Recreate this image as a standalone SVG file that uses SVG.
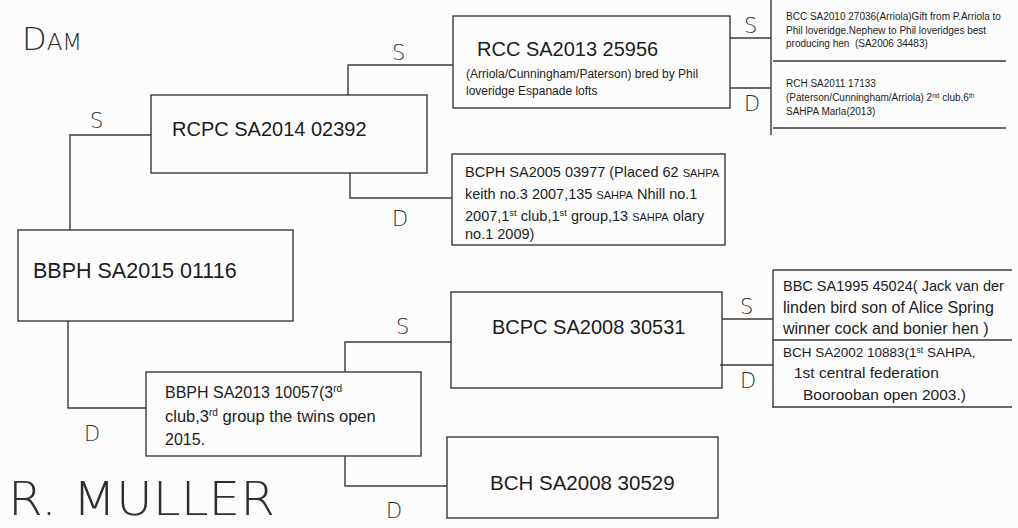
<svg xmlns="http://www.w3.org/2000/svg" width="1018" height="528" viewBox="0 0 1018 528">
<style>
.bg{fill:#fcfcfc}
.box{fill:none;stroke:#3a3a3a;stroke-width:1.4}
.ln{fill:none;stroke:#3a3a3a;stroke-width:1.4}
.t{font-family:"Liberation Sans",Arial,sans-serif;fill:#1c1c1c}
.big{font-size:20px}
.hand{font-family:"DejaVu Sans","Liberation Sans",sans-serif;font-weight:200;fill:#2e2e2e}
.sd{font-size:21px}
</style>
<rect class="bg" x="0" y="0" width="1018" height="528"/>

<g id="connectors">
  <polyline class="ln" points="70,230 70,135 151,135"/>
  <polyline class="ln" points="68,321 68,408 146,408"/>
  <polyline class="ln" points="348,95 348,65 453,65"/>
  <polyline class="ln" points="350,173 350,198 452,198"/>
  <line class="ln" x1="730" y1="38" x2="771" y2="38"/>
  <line class="ln" x1="730" y1="88" x2="771" y2="88"/>
  <line class="ln" x1="771" y1="0" x2="771" y2="135"/>
  <polyline class="ln" points="345,372 345,342 451,342"/>
  <polyline class="ln" points="345,456 345,486 447,486"/>
  <line class="ln" x1="722" y1="319" x2="773" y2="319"/>
  <line class="ln" x1="720" y1="365" x2="773" y2="365"/>
  <line class="ln" x1="773" y1="270" x2="773" y2="408"/>
</g>

<g id="n-bbph2015">
  <rect class="box" x="18" y="230" width="275" height="91"/>
  <text class="t" x="33" y="278" font-size="21.5">BBPH SA2015 01116</text>
</g>

<g id="n-rcpc">
  <rect class="box" x="151" y="95" width="276" height="78"/>
  <text class="t big" x="172" y="136">RCPC SA2014 02392</text>
</g>

<g id="n-rcc">
  <rect class="box" x="453" y="16" width="277" height="92"/>
  <text class="t big" x="477" y="56">RCC SA2013 25956</text>
  <text class="t" x="466" y="78" font-size="12">(Arriola/Cunningham/Paterson) bred by Phil</text>
  <text class="t" x="466" y="95" font-size="12">loveridge Espanade lofts</text>
</g>

<g id="n-bcc">
  <text class="t" x="786" y="20" font-size="10">BCC SA2010 27036(Arriola)Gift from P.Arriola to</text>
  <text class="t" x="786" y="33.5" font-size="10">Phil loveridge.Nephew to Phil loveridges best</text>
  <text class="t" x="786" y="47" font-size="10" xml:space="preserve">producing hen  (SA2006 34483)</text>
  <line class="ln" x1="773" y1="61" x2="1006" y2="61"/>
</g>

<g id="n-rch">
  <text class="t" x="786" y="87" font-size="10">RCH SA2011 17133</text>
  <text class="t" x="786" y="101" font-size="10">(Paterson/Cunningham/Arriola) 2<tspan dy="-3.5" font-size="6.5">nd</tspan><tspan dy="3.5"> club,6</tspan><tspan dy="-3.5" font-size="6.5">th</tspan></text>
  <text class="t" x="786" y="115" font-size="10">SAHPA Marla(2013)</text>
  <line class="ln" x1="773" y1="128" x2="1006" y2="128"/>
</g>

<g id="n-bcph">
  <rect class="box" x="452" y="154" width="273" height="91"/>
  <text class="t" x="465" y="177" font-size="14.5">BCPH SA2005 03977 (Placed 62 <tspan font-size="11">SAHPA</tspan></text>
  <text class="t" x="465" y="199" font-size="14.5">keith no.3 2007,135  <tspan font-size="11">SAHPA</tspan> Nhill no.1</text>
  <text class="t" x="465" y="221" font-size="14.5">2007,1<tspan dy="-5" font-size="9.5">st</tspan><tspan dy="5"> club,1</tspan><tspan dy="-5" font-size="9.5">st</tspan><tspan dy="5"> group,13 </tspan><tspan font-size="11">SAHPA</tspan> olary</text>
  <text class="t" x="465" y="239" font-size="14.5">no.1 2009)</text>
</g>

<g id="n-bbph2013">
  <rect class="box" x="146" y="372" width="275" height="84"/>
  <text class="t" x="165" y="398" font-size="16">BBPH SA2013 10057(3<tspan dy="-6" font-size="10">rd</tspan></text>
  <text class="t" x="165" y="422" font-size="16.5">club,3<tspan dy="-6" font-size="10">rd</tspan><tspan dy="6"> group the twins open</tspan></text>
  <text class="t" x="165" y="445" font-size="16">2015.</text>
</g>

<g id="n-bcpc">
  <rect class="box" x="451" y="292" width="271" height="96"/>
  <text class="t big" x="492" y="334">BCPC SA2008 30531</text>
</g>

<g id="n-bch2008">
  <rect class="box" x="447" y="437" width="271" height="81"/>
  <text class="t" x="490" y="490" font-size="20.5">BCH SA2008 30529</text>
</g>

<g id="n-bbc">
  <line class="ln" x1="773" y1="270" x2="1012" y2="270"/>
  <text class="t" x="783" y="291" font-size="14.5">BBC SA1995 45024( Jack van der</text>
  <text class="t" x="783" y="313" font-size="16">linden bird son of Alice Spring</text>
  <text class="t" x="783" y="334" font-size="16">winner cock and bonier hen )</text>
  <line class="ln" x1="773" y1="340" x2="1012" y2="340"/>
</g>

<g id="n-bch2002">
  <text class="t" x="783" y="357" font-size="13.5">BCH SA2002 10883(1<tspan dy="-4.5" font-size="8.5">st</tspan><tspan dy="4.5"> SAHPA,</tspan></text>
  <text class="t" x="794" y="378" font-size="15.5">1st central federation</text>
  <text class="t" x="803" y="400" font-size="15.5">Boorooban open 2003.)</text>
  <line class="ln" x1="773" y1="407" x2="1012" y2="407"/>
</g>

<g id="labels">
  <text class="hand" x="22" y="50" font-size="32">D<tspan font-size="23">AM</tspan></text>
  <text class="hand" x="8" y="515" font-size="46" textLength="267" lengthAdjust="spacingAndGlyphs">R. MULLER</text>
  <text class="hand sd" x="90" y="128">S</text>
  <text class="hand sd" x="392" y="60">S</text>
  <text class="hand sd" x="392" y="226">D</text>
  <text class="hand sd" x="744" y="33">S</text>
  <text class="hand sd" x="744" y="111">D</text>
  <text class="hand sd" x="84" y="441">D</text>
  <text class="hand sd" x="396" y="334">S</text>
  <text class="hand sd" x="740" y="314">S</text>
  <text class="hand sd" x="740" y="388">D</text>
  <text class="hand sd" x="386" y="518">D</text>
</g>
</svg>
